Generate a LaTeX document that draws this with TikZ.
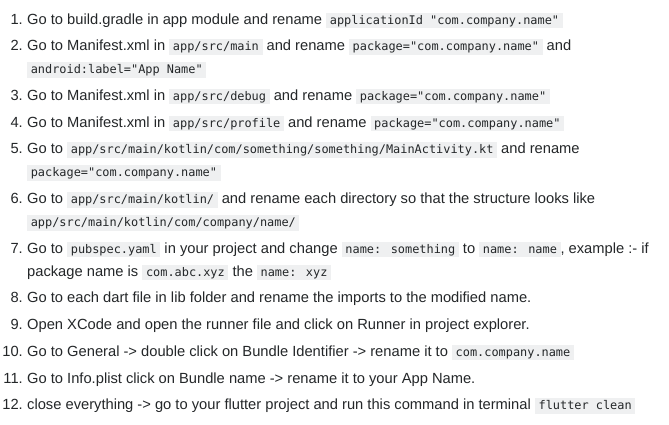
\documentclass[tikz,border=0pt]{standalone}
\usepackage{fontspec}
\setmainfont{Liberation Sans}
\newfontfamily\codefont{DejaVu Sans Mono}
\definecolor{txt}{HTML}{242729}
\definecolor{codebg}{HTML}{EFF0F1}
\newcommand\cd[1]{{\setlength{\fboxsep}{0pt}\colorbox{codebg}{\rule[-4pt]{0pt}{15.5pt}\hspace{3.6pt}{\codefont\fontsize{11.9}{14}\selectfont\color{txt}#1}\hspace{3.6pt}}}}
\tikzset{
  line/.style={anchor=base west, inner sep=0pt, text=txt, font=\fontsize{14.7}{17}\selectfont},
  num/.style={anchor=base east, inner sep=0pt, text=txt, font=\fontsize{14.7}{17}\selectfont}
}
\begin{document}
\begin{tikzpicture}[x=1pt,y=-1pt]
\useasboundingbox[fill=white] (0,0) rectangle (669,424);
\def\tx{27}
\def\nx{23}
% baselines
\node[num] (n1) at (\nx,24) {1.};
\node[line] (l1) at (\tx,24) {Go to build.gradle in app module and rename \cd{applicationId "com.company.name"}};
\node[num] (n2) at (\nx,50.7) {2.};
\node[line] (l2) at (\tx,50.7) {Go to Manifest.xml in \cd{app/src/main} and rename \cd{package="com.company.name"} and};
\node[line] (l2c) at (\tx,73.7) {\cd{android:label="App Name"}};
\node[num] (n3) at (\nx,100.4) {3.};
\node[line] (l3) at (\tx,100.4) {Go to Manifest.xml in \cd{app/src/debug} and rename \cd{package="com.company.name"}};
\node[num] (n4) at (\nx,127.1) {4.};
\node[line] (l4) at (\tx,127.1) {Go to Manifest.xml in \cd{app/src/profile} and rename \cd{package="com.company.name"}};
\node[num] (n5) at (\nx,153.8) {5.};
\node[line] (l5) at (\tx,153.8) {Go to \cd{app/src/main/kotlin/com/something/something/MainActivity.kt} and rename};
\node[line] (l5c) at (\tx,176.8) {\cd{package="com.company.name"}};
\node[num] (n6) at (\nx,203.5) {6.};
\node[line] (l6) at (\tx,203.5) {Go to \cd{app/src/main/kotlin/} and rename each directory so that the structure looks like};
\node[line] (l6c) at (\tx,226.5) {\cd{app/src/main/kotlin/com/company/name/}};
\node[num] (n7) at (\nx,253.2) {7.};
\node[line] (l7) at (\tx,253.2) {Go to \cd{pubspec.yaml} in your project and change \cd{name: something} to \cd{name: name}, example :- if};
\node[line] (l7c) at (\tx,276.2) {package name is \cd{com.abc.xyz} the \cd{name: xyz}};
\node[num] (n8) at (\nx,302.9) {8.};
\node[line] (l8) at (\tx,302.9) {Go to each dart file in lib folder and rename the imports to the modified name.};
\node[num] (n9) at (\nx,329.6) {9.};
\node[line] (l9) at (\tx,329.6) {Open XCode and open the runner file and click on Runner in project explorer.};
\node[num] (n10) at (\nx,356.3) {10.};
\node[line] (l10) at (\tx,356.3) {Go to General -> double click on Bundle Identifier -> rename it to \cd{com.company.name}};
\node[num] (n11) at (\nx,383) {11.};
\node[line] (l11) at (\tx,383) {Go to Info.plist click on Bundle name -> rename it to your App Name.};
\node[num] (n12) at (\nx,409.7) {12.};
\node[line] (l12) at (\tx,409.7) {close everything -> go to your flutter project and run this command in terminal \cd{flutter clean}};
\end{tikzpicture}
\end{document}
